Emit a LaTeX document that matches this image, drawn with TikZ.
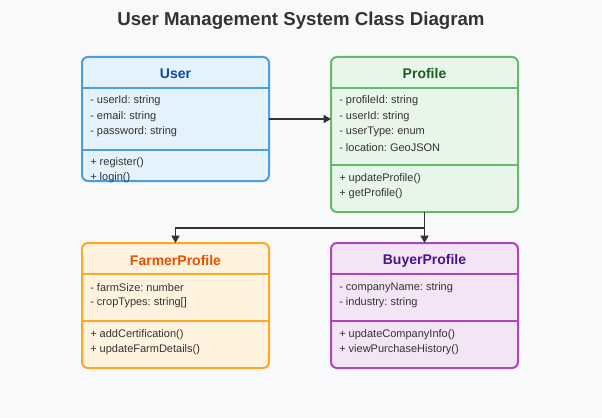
\documentclass[tikz,border=0pt]{standalone}
\usepackage{fontspec}
\setmainfont{Liberation Sans}
\frenchspacing
\usetikzlibrary{arrows.meta}
\definecolor{bg}{HTML}{F8F9FA}
\definecolor{txt}{HTML}{333333}
\definecolor{ub}{HTML}{4A9FE3}\definecolor{uf}{HTML}{E3F2FD}\definecolor{ut}{HTML}{0D47A1}
\definecolor{pb}{HTML}{66BB6A}\definecolor{pf}{HTML}{E8F5E9}\definecolor{pt}{HTML}{1B5E20}
\definecolor{fb}{HTML}{FFA726}\definecolor{ff}{HTML}{FFF3E0}\definecolor{ft}{HTML}{E65100}
\definecolor{bb}{HTML}{AB47BC}\definecolor{bf}{HTML}{F3E5F5}\definecolor{bt}{HTML}{4A148C}
\begin{document}
\begin{tikzpicture}[x=0.75pt,y=-0.75pt,
  classbox/.style={draw=#1, line width=1.5pt, rounded corners=4.5pt, anchor=north west,
    minimum width=140.25pt, inner sep=0pt, outer sep=0pt},
  sepline/.style={draw=#1, line width=1.5pt},
  ctitle/.style={text=#1, font=\fontsize{10.5pt}{12pt}\selectfont\bfseries, inner sep=0pt},
  member/.style={text=txt, font=\fontsize{8.25pt}{10pt}\selectfont\frenchspacing, anchor=west, inner sep=0pt},
  arr/.style={draw=txt, line width=1.1pt, -{Triangle[length=5.5pt,width=6pt]}}]
\fill[bg] (0,0) rectangle (602,417);
\useasboundingbox (0,0) rectangle (602,417);
\node[font=\fontsize{14pt}{16pt}\selectfont\bfseries, text=txt] (title) at (301,20.5) {User Management System Class Diagram};

% User
\node[classbox=ub, fill=uf, minimum height=93pt] (u) at (82,57) {};
\draw[sepline=ub] (u.west |- 0,88) -- (u.east |- 0,88);
\draw[sepline=ub] (u.west |- 0,150) -- (u.east |- 0,150);
\node[ctitle=ut] (ut) at (175.5,73.5) {User};
\node[member] (u1) at (90,101) {- userId: string};
\node[member] (u2) at (90,116.5) {- email: string};
\node[member] (u3) at (90,132) {- password: string};
\node[member] (u4) at (90,162.5) {+ register()};
\node[member] (u5) at (90,178) {+ login()};

% Profile
\node[classbox=pb, fill=pf, minimum height=116.25pt] (p) at (331,57) {};
\draw[sepline=pb] (p.west |- 0,88) -- (p.east |- 0,88);
\draw[sepline=pb] (p.west |- 0,165) -- (p.east |- 0,165);
\node[ctitle=pt] (ptt) at (424.5,73.5) {Profile};
\node[member] (p1) at (339,101) {- profileId: string};
\node[member] (p2) at (339,116.5) {- userId: string};
\node[member] (p3) at (339,132) {- userType: enum};
\node[member] (p4) at (339,147.5) {- location: GeoJSON};
\node[member] (p5) at (339,178.5) {+ updateProfile()};
\node[member] (p6) at (339,194) {+ getProfile()};

% FarmerProfile
\node[classbox=fb, fill=ff, minimum height=93.75pt] (f) at (82,243) {};
\draw[sepline=fb] (f.west |- 0,274) -- (f.east |- 0,274);
\draw[sepline=fb] (f.west |- 0,321) -- (f.east |- 0,321);
\node[ctitle=ft] (ftt) at (175.5,260.5) {FarmerProfile};
\node[member] (f1) at (90,287.5) {- farmSize: number};
\node[member] (f2) at (90,303) {- cropTypes: string[]};
\node[member] (f3) at (90,334.5) {+ addCertification()};
\node[member] (f4) at (90,350) {+ updateFarmDetails()};

% BuyerProfile
\node[classbox=bb, fill=bf, minimum height=93.75pt] (b) at (331,243) {};
\draw[sepline=bb] (b.west |- 0,274) -- (b.east |- 0,274);
\draw[sepline=bb] (b.west |- 0,321) -- (b.east |- 0,321);
\node[ctitle=bt] (btt) at (424.5,260.5) {BuyerProfile};
\node[member] (b1) at (339,287.5) {- companyName: string};
\node[member] (b2) at (339,303) {- industry: string};
\node[member] (b3) at (339,334.5) {+ updateCompanyInfo()};
\node[member] (b4) at (339,350) {+ viewPurchaseHistory()};

% connectors
\draw[arr] (u.east) -- (u.east -| p.west);
\coordinate (j) at (p.south |- 0,228);
\draw[arr] (p.south) -- (b.north);
\draw[arr] (j) -| (f.north);
\end{tikzpicture}
\end{document}
